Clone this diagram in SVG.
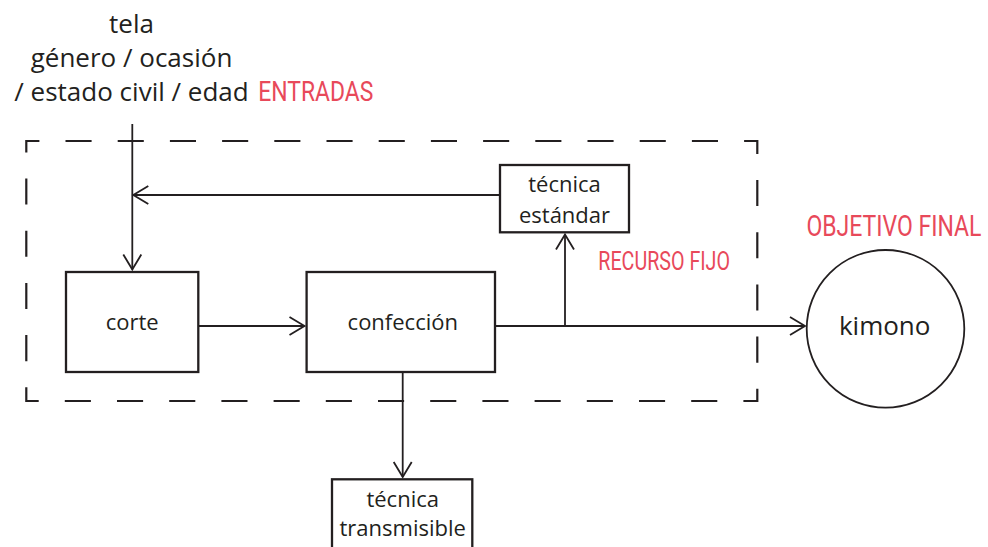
<svg xmlns="http://www.w3.org/2000/svg" width="988" height="547" viewBox="0 0 988 547">
  <style>
    .box { fill: #ffffff; stroke: #231f20; stroke-width: 2.3; }
    .ring { fill: #ffffff; stroke: #231f20; stroke-width: 1.8; }
    .wire { fill: none; stroke: #231f20; stroke-width: 1.8; }
    .frame { fill: none; stroke: #231f20; stroke-width: 2.2; stroke-dasharray: 26.1 26.1; stroke-dashoffset: 13; }
    .lbl { font-family: "Open Sans", "Noto Sans", sans-serif; fill: #231f20; text-anchor: middle; }
    .tag { font-family: Roboto, "Liberation Sans", sans-serif; fill: #e8495a; }
  </style>
  <defs>
    <marker id="arrow" viewBox="-17 -11 19 22" markerWidth="19" markerHeight="22" refX="0" refY="0" orient="auto" markerUnits="userSpaceOnUse">
      <path d="M-15,-9 L0,0 L-15,9" fill="none" stroke="#231f20" stroke-width="1.8"/>
    </marker>
  </defs>

  <!-- process boundary -->
  <rect class="frame" x="26.3" y="141" width="731" height="260"/>

  <!-- inputs -->
  <g id="inputs">
    <text class="lbl" x="131.5" y="33" font-size="26">tela</text>
    <text class="lbl" x="131.5" y="67" font-size="26">género / ocasión</text>
    <text class="lbl" x="131.5" y="101" font-size="26">/ estado civil / edad</text>
    <text class="tag" x="258.3" y="101" font-size="28" textLength="115" lengthAdjust="spacingAndGlyphs">ENTRADAS</text>
  </g>

  <!-- connectors -->
  <g id="connectors">
    <path class="wire" d="M132.3,124 V269.5" marker-end="url(#arrow)"/>
    <path class="wire" d="M499,195 H133.3" marker-end="url(#arrow)"/>
    <path class="wire" d="M199,326 H304.5" marker-end="url(#arrow)"/>
    <path class="wire" d="M496,326 H805" marker-end="url(#arrow)"/>
    <path class="wire" d="M565,326 V234.5" marker-end="url(#arrow)"/>
    <path class="wire" d="M402.7,373 V477" marker-end="url(#arrow)"/>
  </g>

  <g id="corte">
    <rect class="box" x="66" y="272" width="132.3" height="100"/>
    <text class="lbl" x="132.2" y="329.5" font-size="22">corte</text>
  </g>

  <g id="confeccion">
    <rect class="box" x="306.6" y="272" width="188.4" height="100"/>
    <text class="lbl" x="402.8" y="329.5" font-size="22">confección</text>
  </g>

  <g id="tecnica-estandar">
    <rect class="box" x="500" y="165" width="129" height="67.3"/>
    <text class="lbl" x="564.5" y="192" font-size="22">técnica</text>
    <text class="lbl" x="564.5" y="223" font-size="22">estándar</text>
    <text class="tag" x="598.3" y="270" font-size="26" textLength="131.7" lengthAdjust="spacingAndGlyphs">RECURSO FIJO</text>
  </g>

  <g id="tecnica-transmisible">
    <rect class="box" x="332" y="479.3" width="140.3" height="90"/>
    <text class="lbl" x="402.7" y="507" font-size="22">técnica</text>
    <text class="lbl" x="402.7" y="536" font-size="22">transmisible</text>
  </g>

  <g id="kimono">
    <circle class="ring" cx="885.5" cy="328.8" r="78.8"/>
    <text class="lbl" x="884.7" y="335" font-size="26">kimono</text>
    <!-- condensed by a horizontal scale -->
    <text class="tag" transform="translate(806.5 236) scale(0.779 1)" x="0" y="0" font-size="29.5">OBJETIVO FINAL</text>
  </g>
</svg>
